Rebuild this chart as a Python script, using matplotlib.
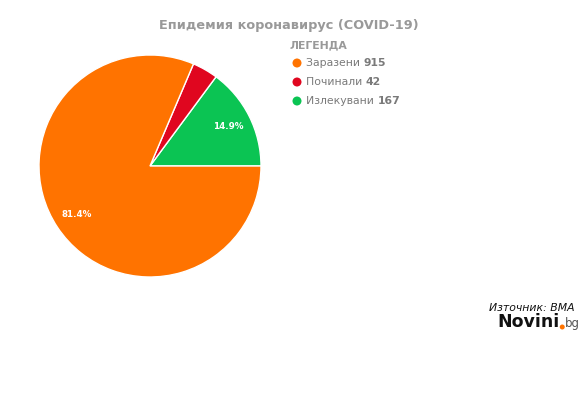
import matplotlib
matplotlib.use("Agg")
import matplotlib.pyplot as plt

labels = ["Излекувани", "Починали", "Заразени"]
values = [167, 42, 915]
colors = ["#0BC453", "#E0061F", "#FF7300"]
legend_labels = ["Заразени", "Починали", "Излекувани"]
legend_values = [915, 42, 167]
legend_colors = ["#FF7300", "#E0061F", "#0BC453"]
title = "Епидемия коронавирус (COVID-19)"

W, H = 588, 395
fig = plt.figure(figsize=(W / 100, H / 100), dpi=100)
fig.patch.set_facecolor("white")

cx, cy, r = 150, 166, 111
ax = fig.add_axes([(cx - r) / W, (H - cy - r) / H, 2 * r / W, 2 * r / H])

def fmt(p):
    return f"{p:.1f}%" if p >= 5 else ""

wedges, texts, autotexts = ax.pie(
    values, colors=colors, startangle=0, counterclock=True,
    autopct=fmt, pctdistance=0.79,
    wedgeprops=dict(edgecolor="white", linewidth=1.0),
    textprops=dict(color="white", fontsize=6.3, fontweight="bold"))
ax.set_aspect("equal")
ax.set_xlim(-1, 1)
ax.set_ylim(-1, 1)

def px(x, y):
    return x / W, 1 - y / H

fig.text(*px(289, 25), title, ha="center", va="center", fontsize=9.3,
         fontweight="bold", color="#999999")
fig.text(*px(289, 45), "ЛЕГЕНДА", ha="left", va="center", fontsize=7.8,
         fontweight="bold", color="#999999")

fig.canvas.draw()
renderer = fig.canvas.get_renderer()
ys = [63, 82, 101]
for lab, val, col, y in zip(legend_labels, legend_values, legend_colors, ys):
    fig.patches.append(matplotlib.patches.Ellipse(px(297, y), 9 / W, 9 / H,
                       transform=fig.transFigure, facecolor=col, edgecolor="none"))
    t = fig.text(*px(306, y), lab + " ", ha="left", va="center", fontsize=7.8,
                 color="#7a7a7a")
    bb = t.get_window_extent(renderer)
    fig.text(bb.x1 / W, 1 - y / H, str(val), ha="left", va="center",
             fontsize=7.8, fontweight="bold", color="#7a7a7a")

fig.text(*px(575, 308), "Източник: BMA", ha="right", va="center", fontsize=7.8,
         style="italic", color="#111111")
t = fig.text(*px(497, 322), "Novini", ha="left", va="center", fontsize=12.5,
             fontweight="bold", color="#111111")
fig.canvas.draw()
bb = t.get_window_extent(renderer)
fig.patches.append(matplotlib.patches.Ellipse(((bb.x1 + 3) / W, 1 - 327 / H), 5 / W, 5 / H,
                   transform=fig.transFigure, facecolor="#FF7300", edgecolor="none"))
fig.text((bb.x1 + 6) / W, 1 - 324 / H, "bg", ha="left", va="center", fontsize=8.5,
         color="#555555")

fig.savefig("out.png", dpi=100, facecolor="white")
